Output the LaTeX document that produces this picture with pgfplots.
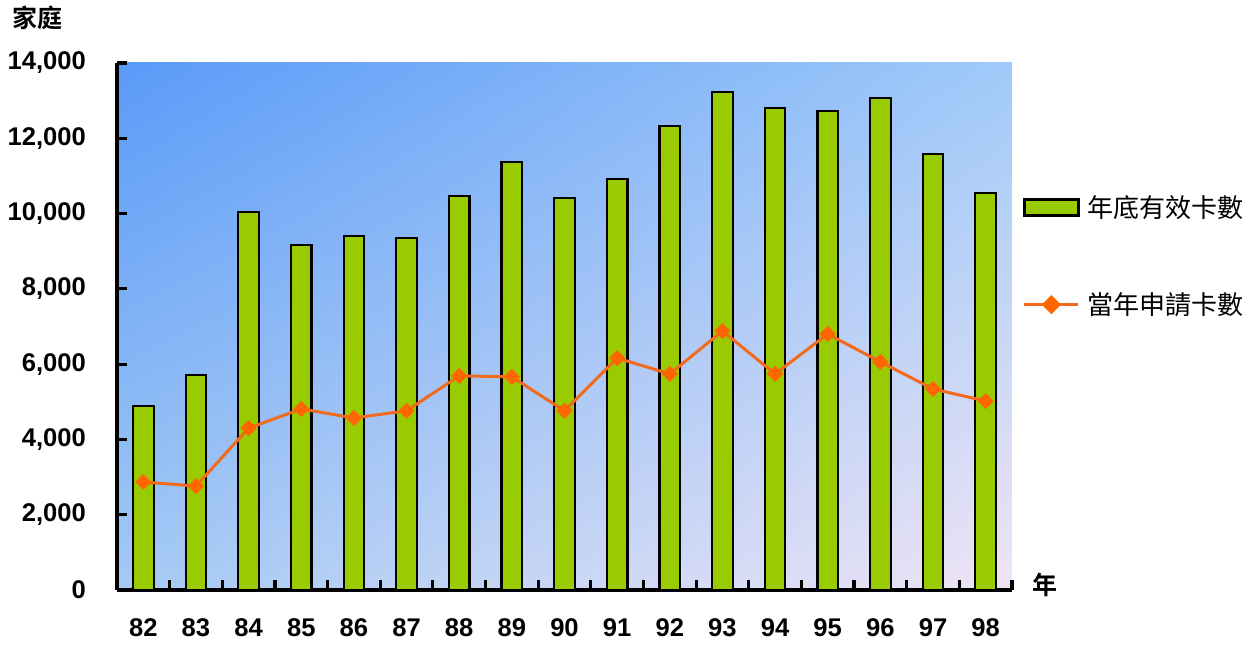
\documentclass[border=0pt]{standalone}
\usepackage{pgfplots}
\pgfplotsset{compat=1.18}
\usetikzlibrary{shadings}
\usepackage{fontspec}
\setmainfont{Liberation Sans}
\newfontfamily\cjk{Noto Sans CJK TC}
\newfontfamily\cjkb{Noto Sans CJK TC Bold}
\definecolor{barGreen}{HTML}{99CC00}
\definecolor{lineOrange}{HTML}{F26B1D}
\definecolor{markOrange}{HTML}{FF6600}
\definecolor{bgTL}{HTML}{5A9AF8}
\definecolor{bgTR}{HTML}{A0CAF8}
\definecolor{bgBL}{HTML}{A4CAF4}
\definecolor{bgBR}{HTML}{F0E4F5}
\begin{document}
\begin{tikzpicture}
\useasboundingbox (0,0) rectangle (627.5pt,323pt);
\begin{axis}[
  at={(58.5pt,28pt)}, anchor=south west,
  width=447.5pt, height=263.5pt, scale only axis,
  xmin=-0.5, xmax=16.5, ymin=0, ymax=14000,
  axis x line=bottom, axis y line=left,
  axis line style={-, line width=1.6pt},
  axis background/.style={shade, upper left=bgTL, upper right=bgTR, lower left=bgBL, lower right=bgBR},
  xtick={0,...,16},
  xticklabels={82,83,84,85,86,87,88,89,90,91,92,93,94,95,96,97,98},
  minor xtick={-0.5,0.5,...,16.5},
  major x tick style={draw=none},
  minor tick length=5pt,
  major tick length=5pt,
  tick align=inside,
  tick style={line width=1.6pt, black},
  ytick={0,2000,...,14000},
  scaled y ticks=false,
  /pgf/number format/1000 sep={,},
  /pgf/number format/assume math mode=true,
  ticklabel style={font=\fontsize{12.8}{15}\selectfont\bfseries},
  xticklabel style={yshift=-11pt},
  yticklabel style={xshift=-12pt},
  legend style={at={(1.005,0.765)}, anchor=north west, draw=none, fill=none,
    font=\cjk\fontsize{13}{15}\selectfont, row sep=32pt, cells={anchor=west}},
  clip=false,
]
\addplot[ybar, bar width=10.3pt, fill=barGreen, draw=black, line width=1.1pt,
  legend image code/.code={\draw[fill=barGreen, draw=black, line width=1.3pt] (0pt,-4pt) rectangle (27pt,4pt);}]
coordinates {(0,4890) (1,5710) (2,10040) (3,9170) (4,9400) (5,9350) (6,10470) (7,11370) (8,10410) (9,10920) (10,12330) (11,13230) (12,12800) (13,12730) (14,13070) (15,11580) (16,10550)};
\addlegendentry{\hspace{2pt}年底有效卡數}
\addplot[line width=1.5pt, color=lineOrange, mark=square*, mark size=2.7pt,
  mark options={rotate=45, fill=markOrange, draw=markOrange, line width=0.3pt},
  legend image code/.code={\draw[line width=1.5pt, lineOrange] (0pt,0pt) -- (27pt,0pt);
    \fill[markOrange] (13.5pt,3.8pt) -- (17.3pt,0pt) -- (13.5pt,-3.8pt) -- (9.7pt,0pt) -- cycle;}]
coordinates {(0,2870) (1,2760) (2,4300) (3,4810) (4,4570) (5,4760) (6,5690) (7,5660) (8,4760) (9,6160) (10,5740) (11,6880) (12,5740) (13,6800) (14,6060) (15,5340) (16,5020)};
\addlegendentry{\hspace{2pt}當年申請卡數}
\end{axis}
\node[font=\cjkb\fontsize{12.5}{14}\selectfont] at (18.5pt,314pt) {家庭};
\node[font=\cjkb\fontsize{12.5}{14}\selectfont] at (522.5pt,30.5pt) {年};
\end{tikzpicture}
\end{document}
